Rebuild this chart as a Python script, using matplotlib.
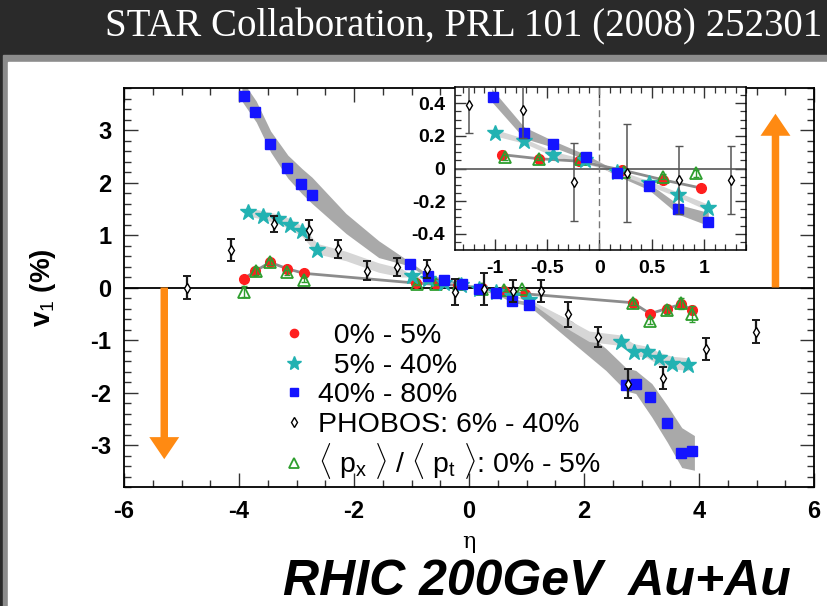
import numpy as np
import matplotlib
matplotlib.use("Agg")
import matplotlib.pyplot as plt
from matplotlib.patches import Rectangle

plt.rcParams['font.family'] = ['Liberation Sans', 'DejaVu Sans']
plt.rcParams['axes.unicode_minus'] = False
plt.rcParams['mathtext.fontset'] = 'custom'
plt.rcParams['mathtext.rm'] = 'Liberation Sans'
plt.rcParams['mathtext.it'] = 'Liberation Sans:italic'
plt.rcParams['mathtext.bf'] = 'Liberation Sans:bold'

# ---- data (eta, v1 in %) ----
# 0% - 5% (red circles)
red_x = [-3.91, -3.72, -3.46, -3.17, -2.87, -0.93, -0.58, -0.20, 0.22, 0.61, 0.97, 2.85, 3.15, 3.44, 3.69, 3.88]
red_y = [0.17, 0.31, 0.48, 0.36, 0.27, 0.085, 0.06, 0.045, -0.01, -0.07, -0.12, -0.29, -0.50, -0.40, -0.32, -0.42]

# <px>/<pt> 0% - 5% (green open triangles)
px_x = [-3.91, -3.70, -3.46, -3.17, -2.87, -0.90, -0.58, -0.18, 0.23, 0.61, 0.92, 2.85, 3.15, 3.44, 3.69, 3.88]
px_y = [-0.08, 0.31, 0.48, 0.29, 0.15, 0.07, 0.06, 0.06, -0.02, -0.05, -0.03, -0.29, -0.63, -0.42, -0.30, -0.50]
px_err = [0.10, 0.08, 0.05, 0.05, 0.05, 0.015, 0.01, 0.01, 0.01, 0.015, 0.02, 0.05, 0.06, 0.08, 0.10, 0.15]

# 5% - 40% (cyan stars)
mid_x = [-3.84, -3.58, -3.32, -3.11, -2.90, -2.64, -1.00, -0.72, -0.44, -0.14, 0.17, 0.47, 0.75, 1.04, 2.64, 2.87, 3.10, 3.30, 3.53, 3.81]
mid_y = [1.43, 1.37, 1.30, 1.20, 1.07, 0.72, 0.22, 0.17, 0.08, 0.05, -0.02, -0.09, -0.16, -0.24, -1.03, -1.22, -1.22, -1.35, -1.45, -1.47]

# 40% - 80% (blue squares)
per_x = [-3.91, -3.72, -3.46, -3.17, -2.92, -2.73, -1.02, -0.72, -0.44, -0.13, 0.17, 0.47, 0.75, 1.04, 2.73, 2.90, 3.15, 3.44, 3.69, 3.88]
per_y = [3.64, 3.35, 2.74, 2.27, 1.98, 1.77, 0.44, 0.22, 0.15, 0.07, -0.03, -0.11, -0.25, -0.33, -1.85, -1.83, -2.08, -2.59, -3.16, -3.12]

# PHOBOS 6% - 40%
pho_x = [-4.90, -4.14, -3.39, -2.78, -2.28, -1.78, -1.25, -0.73, -0.24, 0.26, 0.76, 1.26, 1.73, 2.24, 2.76, 3.38, 4.12, 4.99]
pho_y = [0.00, 0.71, 1.21, 1.10, 0.74, 0.32, 0.39, 0.36, -0.085, -0.03, -0.07, -0.07, -0.51, -0.95, -1.83, -1.73, -1.18, -0.84]
pho_err = [0.21, 0.21, 0.15, 0.19, 0.17, 0.18, 0.17, 0.17, 0.24, 0.30, 0.21, 0.21, 0.24, 0.19, 0.27, 0.21, 0.21, 0.22]

# systematic bands
per_band_x = [-3.95, -3.70, -3.45, -3.15, -2.90, -2.73, -2.14, -1.57, -1.03, -0.72, -0.44, -0.13, 0.17, 0.47, 0.75, 1.04, 1.79, 2.38, 2.73, 2.90, 3.18, 3.45, 3.70, 3.92]
per_band_mid = [3.75, 3.35, 2.78, 2.30, 2.02, 1.85, 1.22, 0.73, 0.45, 0.22, 0.15, 0.07, -0.03, -0.11, -0.25, -0.31, -0.84, -1.37, -1.75, -1.80, -2.15, -2.60, -3.05, -3.15]
per_band_hw = [0.20, 0.20, 0.20, 0.22, 0.24, 0.25, 0.19, 0.16, 0.04, 0.035, 0.02, 0.015, 0.015, 0.02, 0.03, 0.04, 0.20, 0.21, 0.22, 0.22, 0.32, 0.35, 0.38, 0.33]

mid_band_x = [-3.88, -3.58, -3.32, -3.11, -2.90, -2.64, -2.14, -1.57, -1.17, -1.00, -0.72, -0.44, -0.14, 0.17, 0.47, 0.75, 1.04, 1.69, 2.09, 2.61, 2.87, 3.10, 3.30, 3.53, 3.82]
mid_band_mid = [1.45, 1.38, 1.31, 1.21, 1.07, 0.74, 0.60, 0.38, 0.28, 0.22, 0.17, 0.09, 0.045, -0.02, -0.09, -0.16, -0.24, -0.68, -0.93, -1.00, -1.18, -1.23, -1.35, -1.43, -1.46]
mid_band_hw = [0.08, 0.08, 0.09, 0.10, 0.10, 0.10, 0.09, 0.09, 0.08, 0.02, 0.015, 0.015, 0.012, 0.012, 0.015, 0.015, 0.02, 0.09, 0.10, 0.10, 0.11, 0.11, 0.12, 0.12, 0.12]

# orange arrows (x position, length)
arrow_x = [-5.3, 5.33]
arrow_len = [-3.27, 3.31]


def pick(xs, ys, lim, *extra):
    # keep only points with |eta| <= lim
    keep = np.abs(np.array(xs)) <= lim
    out = [np.array(xs)[keep], np.array(ys)[keep]]
    for e in extra:
        out.append(np.array(e)[keep])
    return out


def draw(a, lim=10.0):
    bx, bm, bw = pick(per_band_x, per_band_mid, lim, per_band_hw)
    a.fill_between(bx, bm - bw, bm + bw, color='#a9a9a9', lw=0, zorder=1)
    bx, bm, bw = pick(mid_band_x, mid_band_mid, lim, mid_band_hw)
    a.fill_between(bx, bm - bw, bm + bw, color='#d6d6d6', lw=0, zorder=1)
    rx, ry = pick(red_x, red_y, lim)
    a.plot(rx, ry, color='#8c8c8c', lw=2, zorder=1.5)
    big = lim > 5
    h_red, = a.plot(red_x, red_y, 'o', color='#ff1e1e', ms=7, mec='#ff1e1e', ls='none', zorder=3)
    a.errorbar(px_x, px_y, yerr=px_err, fmt='none', ecolor='#2e9e2e', elinewidth=1, capsize=2, zorder=3.5)
    h_px, = a.plot(px_x, px_y, '^', mfc='none', mec='#2e9e2e', mew=1.3, ms=8.5, ls='none', zorder=3.5)
    h_mid, = a.plot(mid_x, mid_y, '*', color='#22b2b2', mec='#22b2b2', ms=12, ls='none', zorder=4)
    h_per, = a.plot(per_x, per_y, 's', color='#1414ff', mec='#1414ff', ms=7.5, ls='none', zorder=4.5)
    a.errorbar(pho_x, pho_y, yerr=pho_err, fmt='none', ecolor='#1a1a1a' if big else '#555555',
               elinewidth=1.6 if big else 1.1, capsize=3, capthick=1.4 if big else 1.0, zorder=5)
    h_pho, = a.plot(pho_x, pho_y, 'd', mfc='white', mec='black', mew=1.0, ms=5.5, ls='none', zorder=5.5)
    return h_red, h_mid, h_per, h_pho, h_px


fig = plt.figure(figsize=(8.27, 6.06), dpi=100, facecolor='#2a2a2a')
fig.patches.append(Rectangle((3 / 827, 0), 1, 1 - 55 / 606, transform=fig.transFigure,
                             color='#8c8c8c', zorder=-2))
fig.patches.append(Rectangle((8 / 827, 0), 1, 1 - 62 / 606, transform=fig.transFigure,
                             color='white', zorder=-1))

fig.text(822 / 827, 1 - 27 / 606, 'STAR Collaboration, PRL 101 (2008) 252301', ha='right', va='center',
         color='white', family='Liberation Serif', fontsize=28)
fig.text(283 / 827, 11 / 606, 'RHIC 200GeV  Au+Au', ha='left', va='baseline', color='black',
         fontsize=36, fontweight='bold', fontstyle='italic')

# ---- main panel ----
ax = fig.add_axes([124 / 827, 1 - 487 / 606, 690 / 827, 399 / 606])
ax.set_facecolor('white')
ax.set_xlim(-6, 6)
ax.set_ylim(-3.8, 3.8)
ax.axhline(0, color='black', lw=1.3, zorder=2)
handles = draw(ax)

for xa, la in zip(arrow_x, arrow_len):
    ax.arrow(xa, 0, 0, la, width=0.13, head_width=0.52, head_length=0.42,
             length_includes_head=True, color='#ff8a12', lw=0, zorder=6)

ax.set_xticks([-6, -4, -2, 0, 2, 4, 6])
ax.set_xticklabels(['-6', '-4', '-2', '0', '2', '4', '6'])
ax.set_xticks(np.arange(-6, 6.01, 0.5), minor=True)
ax.set_yticks([-3, -2, -1, 0, 1, 2, 3])
ax.set_yticklabels(['-3', '-2', '-1', '0', '1', '2', '3'])
ax.set_yticks(np.arange(-3.8, 3.81, 0.2), minor=True)
ax.tick_params(which='both', direction='in', top=True, right=True, color='#333333')
ax.tick_params(which='major', length=10, width=1.0, labelsize=17, pad=9)
ax.tick_params(which='minor', length=5, width=1.0)
for lab in ax.get_xticklabels() + ax.get_yticklabels():
    lab.set_fontweight('bold')
for sp in ax.spines.values():
    sp.set_linewidth(1.3)

ax.set_ylabel('v$_1$ (%)', fontsize=20, fontweight='bold')
ax.yaxis.set_label_coords(-0.095, 0.5)
ax.set_xlabel('η', fontsize=16, family='DejaVu Serif')
ax.xaxis.set_label_coords(0.5, -0.11)

labels = ['  0% - 5%', '  5% - 40%', '40% - 80%', 'PHOBOS: 6% - 40%',
          r'$\langle$ p$_{\rm x}$ $\rangle$ / $\langle$ p$_{\rm t}$ $\rangle$: 0% - 5%']
ax.legend(handles, labels, loc='upper left', bbox_to_anchor=(0.228, 0.41), frameon=False,
          fontsize=20.5, handlelength=0.9, handletextpad=0.4, labelspacing=0.12, borderpad=0,
          borderaxespad=0, markerscale=0.85)

# ---- inset ----
ins = fig.add_axes([455 / 827, 1 - 250 / 606, 291 / 827, 163 / 606])
ins.set_facecolor('white')
ins.set_xlim(-1.38, 1.40)
ins.set_ylim(-0.5, 0.5)
ins.axhline(0, color='#555555', lw=1.2, zorder=2)
ins.axvline(0, color='#777777', lw=1.0, ls=(0, (5, 3)), zorder=2)
draw(ins, lim=1.1)
ins.set_xticks([-1, -0.5, 0, 0.5, 1])
ins.set_xticklabels(['-1', '-0.5', '0', '0.5', '1'])
ins.set_xticks(np.arange(-1.3, 1.41, 0.1), minor=True)
ins.set_yticks([-0.4, -0.2, 0, 0.2, 0.4])
ins.set_yticklabels(['-0.4', '-0.2', '0', '0.2', '0.4'])
ins.set_yticks(np.arange(-0.45, 0.5, 0.05), minor=True)
ins.tick_params(which='both', direction='in', top=True, right=True, color='#333333')
ins.tick_params(which='major', length=8, width=1.0, labelsize=14, pad=7)
ins.tick_params(which='minor', length=4, width=0.9)
for lab in ins.get_xticklabels() + ins.get_yticklabels():
    lab.set_fontweight('bold')
for sp in ins.spines.values():
    sp.set_linewidth(1.1)

fig.savefig('out.png', dpi=100, facecolor=fig.get_facecolor())
